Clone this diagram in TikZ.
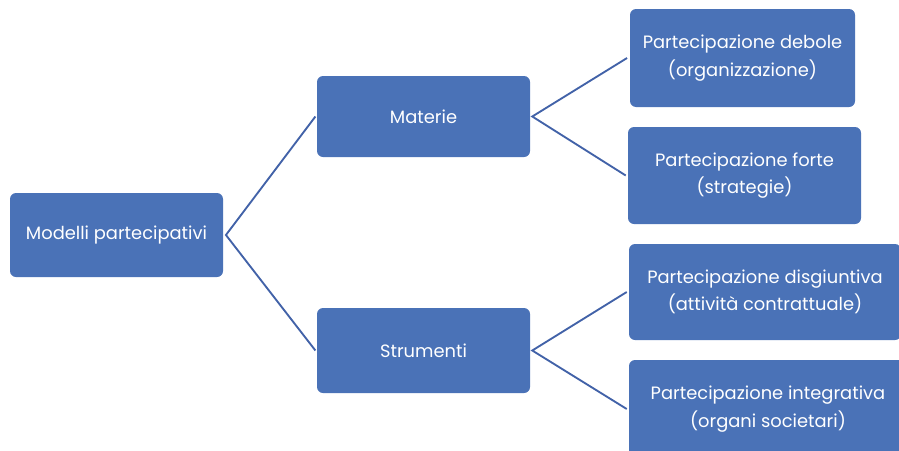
\documentclass[tikz,border=0pt]{standalone}
\usepackage{fontspec}
\setmainfont{Poppins}
\definecolor{boxblue}{RGB}{74,114,183}
\definecolor{lineblue}{RGB}{66,98,168}
\begin{document}
\begin{tikzpicture}[x=0.75pt,y=-0.75pt,
  box/.style={rectangle, rounded corners=4.5pt, fill=boxblue, draw=none, text=white,
    font=\fontsize{13.4}{20.5}\selectfont, align=center, inner sep=0pt},
  conn/.style={draw=lineblue, line width=1.4pt}]
\useasboundingbox (0,0) rectangle (899,450);
\clip (0,0) rectangle (899,450);
\node[box, minimum width=213*0.75pt, minimum height=84*0.75pt] (m) at (116.5,235) {Modelli partecipativi};
\node[box, minimum width=213*0.75pt, minimum height=81*0.75pt] (mat) at (423.5,116.5) {Materie};
\node[box, minimum width=213*0.75pt, minimum height=85*0.75pt] (str) at (423.5,350.5) {Strumenti};
\node[box, minimum width=225*0.75pt, minimum height=98*0.75pt] (pd) at (742.5,58) {Partecipazione debole\\(organizzazione)};
\node[box, minimum width=233*0.75pt, minimum height=97*0.75pt] (pf) at (744.5,175.5) {Partecipazione forte\\(strategie)};
\node[box, minimum width=272*0.75pt, minimum height=96*0.75pt] (pdis) at (765,292) {Partecipazione disgiuntiva\\(attività contrattuale)};
\node[box, minimum width=278*0.75pt, minimum height=98*0.75pt] (pint) at (768,409) {Partecipazione integrativa\\(organi societari)};
\coordinate (mv) at ([xshift=2pt]m.east);
\coordinate (matv) at ([xshift=1.5pt]mat.east);
\coordinate (strv) at ([xshift=1.5pt]str.east);
\draw[conn] ([xshift=-1pt]mat.west) -- (mv) -- ([xshift=-1pt]str.west);
\draw[conn] ([xshift=-2pt]pd.west) -- (matv) -- ([xshift=-1.5pt]pf.west);
\draw[conn] ([xshift=-1.5pt]pdis.west) -- (strv) -- ([xshift=-1.5pt]pint.west);
\end{tikzpicture}
\end{document}
